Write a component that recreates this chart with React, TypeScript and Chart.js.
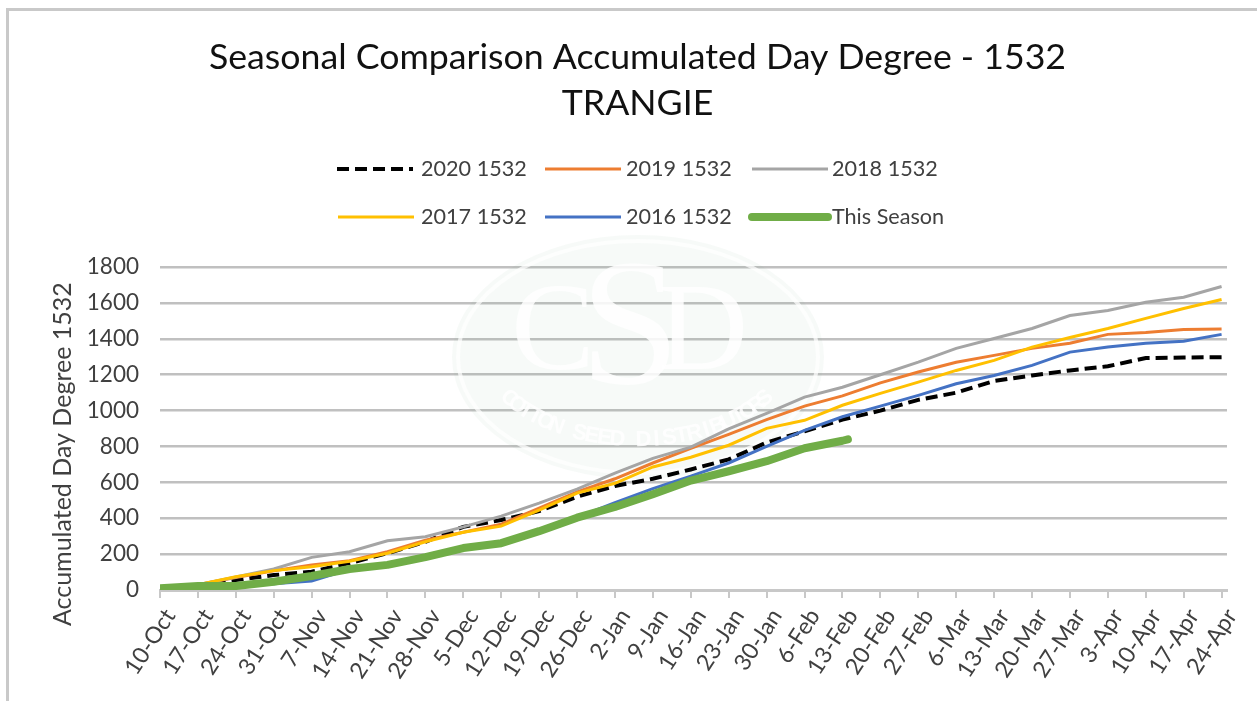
import React, { useEffect, useRef } from "react";
import { Chart, registerables } from "chart.js";

Chart.register(...registerables);

const titleLines = ["Seasonal Comparison Accumulated Day Degree - 1532", "TRANGIE"];
const yTitle = "Accumulated Day Degree 1532";
const tickLabels = ["10-Oct","17-Oct","24-Oct","31-Oct","7-Nov","14-Nov","21-Nov","28-Nov","5-Dec","12-Dec","19-Dec","26-Dec","2-Jan","9-Jan","16-Jan","23-Jan","30-Jan","6-Feb","13-Feb","20-Feb","27-Feb","6-Mar","13-Mar","20-Mar","27-Mar","3-Apr","10-Apr","17-Apr","24-Apr"];
const lastDay = 197;

const s2020 = [10,25,55,83,102,150,205,269,352,390,440,520,580,620,672,728,822,885,950,1000,1060,1100,1165,1196,1224,1247,1293,1296,1298];
const s2019 = [10,30,70,107,139,163,213,278,322,367,456,547,620,708,790,868,950,1025,1082,1155,1215,1270,1308,1347,1376,1425,1436,1452,1455];
const s2018 = [10,30,72,117,182,213,274,297,352,412,484,562,651,734,796,898,985,1075,1130,1200,1270,1347,1402,1458,1530,1558,1604,1632,1692];
const s2017 = [10,30,74,108,130,160,205,269,322,356,445,540,595,686,740,807,901,946,1030,1096,1159,1224,1280,1354,1408,1458,1514,1569,1619];
const s2016 = [10,22,25,35,50,115,140,185,235,272,335,405,487,565,635,708,800,890,966,1025,1085,1150,1196,1252,1326,1354,1376,1387,1425];
const sThis = [10,22,22,46,78,117,140,183,234,261,328,403,463,534,610,662,718,790,832];
const thisEndDay = 127;
const thisEndValue = 840;

const toXY = (vals: number[]) => vals.map((y, i) => ({ x: i * 7, y }));

const watermark = {
  id: "watermark",
  beforeDatasetsDraw(chart: any) {
    const c = chart.ctx;
    const cx = 638, cy = 357;
    c.save();
    c.beginPath();
    c.ellipse(cx, cy, 186, 122, 0, 0, Math.PI * 2);
    c.fillStyle = "rgba(120,175,140,0.06)";
    c.fill();
    c.beginPath();
    c.ellipse(cx, cy, 180, 116, 0, 0, Math.PI * 2);
    c.strokeStyle = "rgba(255,255,255,0.7)";
    c.lineWidth = 4;
    c.stroke();
    c.fillStyle = "rgba(255,255,255,0.85)";
    c.textAlign = "center";
    c.textBaseline = "middle";
    c.font = "125px 'Liberation Serif'";
    c.fillText("C", 553, 336);
    c.fillText("D", 703, 336);
    c.font = "180px 'Liberation Serif'";
    c.fillText("S", 630, 336);
    const wm = "COTTON SEED DISTRIBUTORS";
    c.font = "bold 22px 'Liberation Sans'";
    for (let i = 0; i < wm.length; i++) {
      const a = -0.97 + (1.94 * i) / (wm.length - 1);
      const x = 637 + 155 * Math.sin(a);
      const y = 345 + 95 * Math.cos(a);
      c.save();
      c.translate(x, y);
      c.rotate(Math.atan2(-95 * Math.sin(a), 155 * Math.cos(a)));
      c.fillText(wm[i], 0, 0);
      c.restore();
    }
    c.restore();
  },
};

const legendCells = [
  { sx: 337, tx: 421, y: 169 },
  { sx: 545, tx: 626, y: 169 },
  { sx: 752, tx: 832, y: 169 },
  { sx: 338, tx: 421, y: 217 },
  { sx: 545, tx: 626, y: 217 },
  { sx: 752, tx: 832, y: 217 },
];

const gridLegend = {
  id: "gridLegend",
  afterDraw(chart: any) {
    const c = chart.ctx;
    c.save();
    chart.data.datasets.forEach((d: any, i: number) => {
      const p = legendCells[i];
      c.beginPath();
      c.strokeStyle = d.borderColor;
      c.lineWidth = d.borderWidth;
      c.lineCap = d.borderCapStyle || "butt";
      c.setLineDash(d.borderDash || []);
      c.moveTo(p.sx, p.y);
      c.lineTo(p.sx + 76, p.y);
      c.stroke();
      c.setLineDash([]);
      c.fillStyle = "#404040";
      c.font = "21.6px Lato";
      c.textAlign = "left";
      c.textBaseline = "middle";
      c.fillText(d.label, p.tx, p.y);
    });
    c.restore();
  },
};

export default function App() {
  const ref = useRef<HTMLCanvasElement>(null);
  useEffect(() => {
    const line = (label: string, vals: number[], color: string, order: number, extra: any = {}) => ({
      label,
      data: toXY(vals),
      borderColor: color,
      backgroundColor: color,
      borderWidth: 3,
      pointRadius: 0,
      tension: 0,
      fill: false,
      order,
      ...extra,
    });
    const chart = new Chart(ref.current!, {
      type: "line",
      data: {
        datasets: [
          line("2020 1532", s2020, "#000000", 6, { borderDash: [12, 6], borderWidth: 4 }),
          line("2019 1532", s2019, "#ED7D31", 5),
          line("2018 1532", s2018, "#A5A5A5", 4),
          line("2017 1532", s2017, "#FFC000", 3),
          line("2016 1532", s2016, "#4472C4", 2),
          {
            ...line("This Season", sThis, "#70AD47", 1, { borderWidth: 8, borderCapStyle: "round", borderJoinStyle: "round" }),
            data: [...toXY(sThis), { x: thisEndDay, y: thisEndValue }],
          },
        ],
      },
      options: {
        responsive: false,
        animation: false,
        layout: { padding: { left: 48, right: 30, top: 0, bottom: 0 } },
        plugins: {
          legend: { display: false },
          tooltip: { enabled: false },
          title: {
            display: true,
            text: titleLines,
            color: "#111111",
            font: { family: "Lato", size: 35.7, weight: "normal", lineHeight: 1.29 },
            padding: { top: 34, bottom: 141 },
          },
        },
        scales: {
          x: {
            type: "linear",
            min: 0,
            max: lastDay,
            afterFit: (s: any) => { s.height = 111; },
            border: { display: true, color: "#c8c8c8", width: 3 },
            grid: { drawOnChartArea: false, drawTicks: true, tickLength: 8, color: "#c8c8c8", lineWidth: 2 },
            ticks: {
              stepSize: 7,
              includeBounds: false,
              autoSkip: false,
              minRotation: 57,
              maxRotation: 57,
              padding: 6,
              labelOffset: 10,
              color: "#404040",
              font: { family: "Lato", size: 23 },
              callback: (v: any) => tickLabels[Math.round(v / 7)] ?? "",
            },
          },
          y: {
            min: 0,
            max: 1800,
            afterFit: (s: any) => { s.width = 112; },
            border: { display: false },
            grid: { drawTicks: false, color: "#c0c0c0", lineWidth: 2.5 },
            ticks: {
              stepSize: 200,
              padding: 21,
              color: "#404040",
              font: { family: "Lato", size: 22.5 },
              callback: (v: any) => String(v),
            },
            title: {
              display: true,
              text: yTitle + " ".repeat(8),
              color: "#404040",
              font: { family: "Lato", size: 25 },
              padding: { top: 0, bottom: 0 },
            },
          },
        },
      } as any,
      plugins: [watermark, gridLegend],
    } as any);
    return () => chart.destroy();
  }, []);
  return (
    <div style={{ position: "fixed", left: 0, top: 0, width: 1257, height: 701, overflow: "hidden", background: "#fff" }}>
      <canvas ref={ref} width={1257} height={701} style={{ display: "block", filter: "blur(0.55px)" }} />
      <div style={{ position: "absolute", left: 6, top: 8, width: 1300, height: 800, borderLeft: "3px solid #c9c9c9", borderTop: "3px solid #c9c9c9" }} />
    </div>
  );
}
